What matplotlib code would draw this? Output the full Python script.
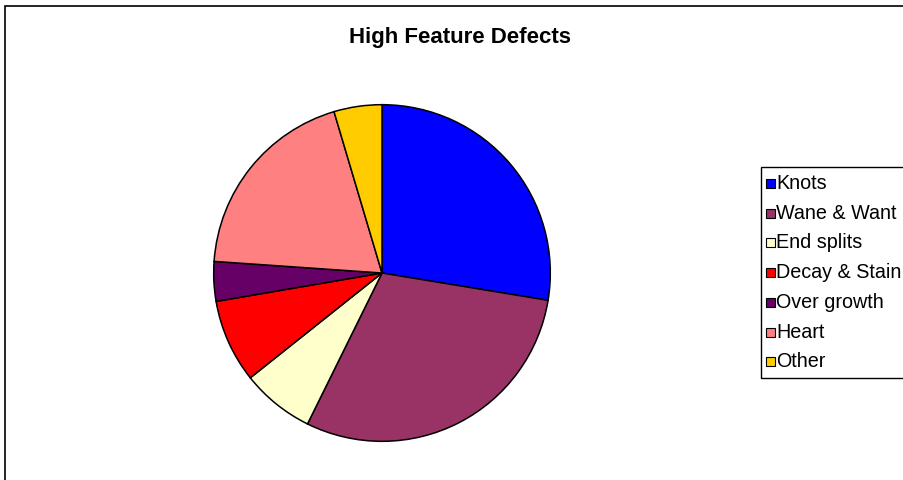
import matplotlib
matplotlib.use('Agg')
import matplotlib.pyplot as plt
from matplotlib.patches import Rectangle

labels = ['Knots', 'Wane & Want', 'End splits', 'Decay & Stain', 'Over growth', 'Heart', 'Other']
values = [27.6, 29.7, 7.0, 8.0, 3.8, 19.3, 4.6]
colors = ['#0000FF', '#993366', '#FFFFCC', '#FF0000', '#660066', '#FF8080', '#FFCC00']

plt.rcParams['font.family'] = ['Liberation Sans', 'DejaVu Sans']

W, H = 904, 480
fig = plt.figure(figsize=(W / 100, H / 100), dpi=100)
fig.patch.set_facecolor('white')


def px(x, y):
    # pixel coords (from top-left) -> figure fraction
    return x / W, 1 - y / H


# chart area frame (right and bottom run off the picture)
fig.add_artist(Rectangle((5 / W, -0.1), 1.2, 1 - 5.5 / H + 0.1, transform=fig.transFigure,
                         facecolor='none', edgecolor='black', linewidth=1.2))

fig.text(*px(460, 38), 'High Feature Defects', ha='center', va='center',
         fontsize=16, fontweight='bold')

cx, cy, r = 382, 273, 170
ax = fig.add_axes([(cx - r) / W, (H - cy - r) / H, 2 * r / W, 2 * r / H])
ax.pie(values, colors=colors, startangle=90, counterclock=False, radius=1,
       wedgeprops=dict(edgecolor='black', linewidth=1.1))
ax.set_xlim(-1.01, 1.01)
ax.set_ylim(-1.01, 1.01)
ax.set_aspect('equal')
ax.axis('off')

# legend drawn by hand so the box can run off the right edge like the original
top, bottom = 167, 378
x0, y0 = px(760.7, bottom)
fig.add_artist(Rectangle((x0, y0), 0.5, (bottom - top) / H, transform=fig.transFigure,
                         facecolor='white', edgecolor='black', linewidth=1.0))
row0, step, box = 183.5, 29.7, 9
for i, (lab, col) in enumerate(zip(labels, colors)):
    yc = row0 + step * i
    bx, by = px(766, yc + box / 2)
    fig.add_artist(Rectangle((bx, by), box / W, box / H, transform=fig.transFigure,
                             facecolor=col, edgecolor='black', linewidth=0.8))
    fig.text(*px(776, yc), lab, ha='left', va='center', fontsize=14.2)

fig.savefig('out.png', dpi=100)
